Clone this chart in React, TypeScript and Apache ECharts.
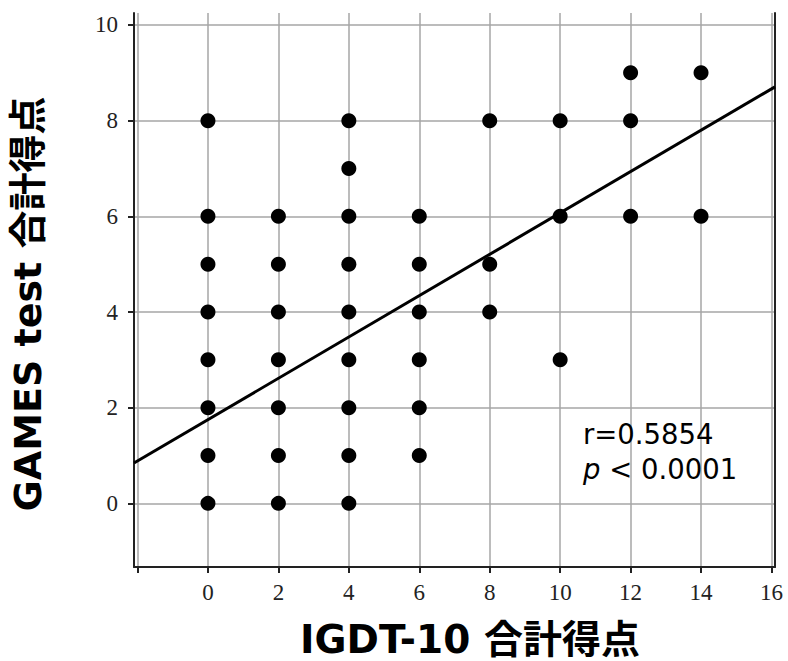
import React, { useEffect, useRef } from "react";
import * as echarts from "echarts";

// IGDT-10 total score (x) and GAMES test total score (y)
const igdtScores = [
  0, 0, 0, 0, 0, 0, 0, 0,
  2, 2, 2, 2, 2, 2, 2,
  4, 4, 4, 4, 4, 4, 4, 4, 4,
  6, 6, 6, 6, 6, 6,
  8, 8, 8,
  10, 10, 10,
  12, 12, 12,
  14, 14,
];
const gamesScores = [
  8, 6, 5, 4, 3, 2, 1, 0,
  6, 5, 4, 3, 2, 1, 0,
  8, 7, 6, 5, 4, 3, 2, 1, 0,
  6, 5, 4, 3, 2, 1,
  8, 5, 4,
  8, 6, 3,
  9, 8, 6,
  9, 6,
];

const xTickValues = [-2, 0, 2, 4, 6, 8, 10, 12, 14, 16];
const xLabelValues = [0, 2, 4, 6, 8, 10, 12, 14, 16];
const yTickValues = [0, 2, 4, 6, 8, 10];

const X_MIN = -2.1;
const X_MAX = 16.1;
const Y_MIN = -1.33;
const Y_MAX = 10.25;

// Regression line y = a + b x
const REG_INTERCEPT = 1.75;
const REG_SLOPE = 0.432;
const statR = "r=0.5854";
const statP = " < 0.0001";

export default function App() {
  const ref = useRef<HTMLDivElement>(null);

  useEffect(() => {
    if (!ref.current) return;
    const chart = echarts.init(ref.current, null, { renderer: "svg" });
    const points = igdtScores.map((x, i) => [x, gamesScores[i]]);
    const regLine = [
      [X_MIN, REG_INTERCEPT + REG_SLOPE * X_MIN],
      [X_MAX, REG_INTERCEPT + REG_SLOPE * X_MAX],
    ];
    const gridColor = "#a6a6a6";
    chart.setOption({
      animation: false,
      backgroundColor: "#ffffff",
      grid: {
        left: 134,
        right: 13,
        top: 13,
        bottom: 94,
        outerBoundsMode: "none",
      },
      xAxis: {
        type: "value",
        min: X_MIN,
        max: X_MAX,
        name: "IGDT-10 合計得点",
        nameLocation: "middle",
        nameGap: 52,
        nameTextStyle: {
          fontFamily: "DejaVu Sans, Noto Sans CJK JP",
          fontWeight: "bold",
          fontSize: 39,
          lineHeight: 40,
          color: "#000",
          padding: [0, 0, 0, 31],
        },
        axisLine: { show: true, onZero: false, lineStyle: { color: "#222", width: 2 } },
        axisTick: { show: true, length: 6, customValues: xTickValues, lineStyle: { color: "#222", width: 2 } },
        axisLabel: {
          customValues: xLabelValues,
          fontFamily: "Liberation Serif",
          fontSize: 23,
          color: "#222",
          margin: 14,
        },
        splitLine: { show: true, lineStyle: { color: gridColor, width: 1.5 } },
      },
      yAxis: [
        {
          type: "value",
          min: Y_MIN,
          max: Y_MAX,
          name: "GAMES test 合計得点",
          nameLocation: "middle",
          nameGap: 86,
          nameTextStyle: {
            fontFamily: "DejaVu Sans, Noto Sans CJK JP",
            fontWeight: "bold",
            fontSize: 38,
            lineHeight: 40,
            color: "#000",
            padding: [0, 28, 0, 0],
          },
          axisLine: { show: true, onZero: false, lineStyle: { color: "#222", width: 2 } },
          axisTick: { show: true, length: 6, customValues: yTickValues, lineStyle: { color: "#222", width: 2 } },
          axisLabel: {
            customValues: yTickValues,
            fontFamily: "Liberation Serif",
            fontSize: 23,
            color: "#222",
            margin: 16,
          },
          splitLine: { show: true, lineStyle: { color: gridColor, width: 1.5 } },
        },
        {
          type: "value",
          min: Y_MIN,
          max: Y_MAX,
          position: "right",
          axisLine: { show: true, onZero: false, lineStyle: { color: "#222", width: 2 } },
          axisTick: { show: false },
          axisLabel: { show: false },
          splitLine: { show: false },
        },
      ],
      series: [
        {
          type: "scatter",
          data: points,
          symbol: "circle",
          symbolSize: 15,
          itemStyle: { color: "#000", opacity: 1 },
          z: 3,
        },
        {
          type: "line",
          data: regLine,
          symbol: "none",
          lineStyle: { color: "#000", width: 3 },
          z: 4,
        },
      ],
      graphic: [
        {
          type: "text",
          left: 583,
          top: 420,
          z: 10,
          style: {
            text: `{a|${statR}}\n{i|p}{a|${statP}}`,
            rich: {
              a: {
                fontFamily: "DejaVu Sans",
                fontSize: 27.5,
                color: "#111",
                lineHeight: 35,
              },
              i: {
                fontFamily: "DejaVu Sans",
                fontStyle: "italic",
                fontSize: 27.5,
                color: "#111",
                lineHeight: 35,
              },
            },
          },
        },
      ],
    });
    return () => chart.dispose();
  }, []);

  return (
    <div
      ref={ref}
      style={{ position: "absolute", left: 0, top: 0, width: 788, height: 661, background: "#fff" }}
    />
  );
}
